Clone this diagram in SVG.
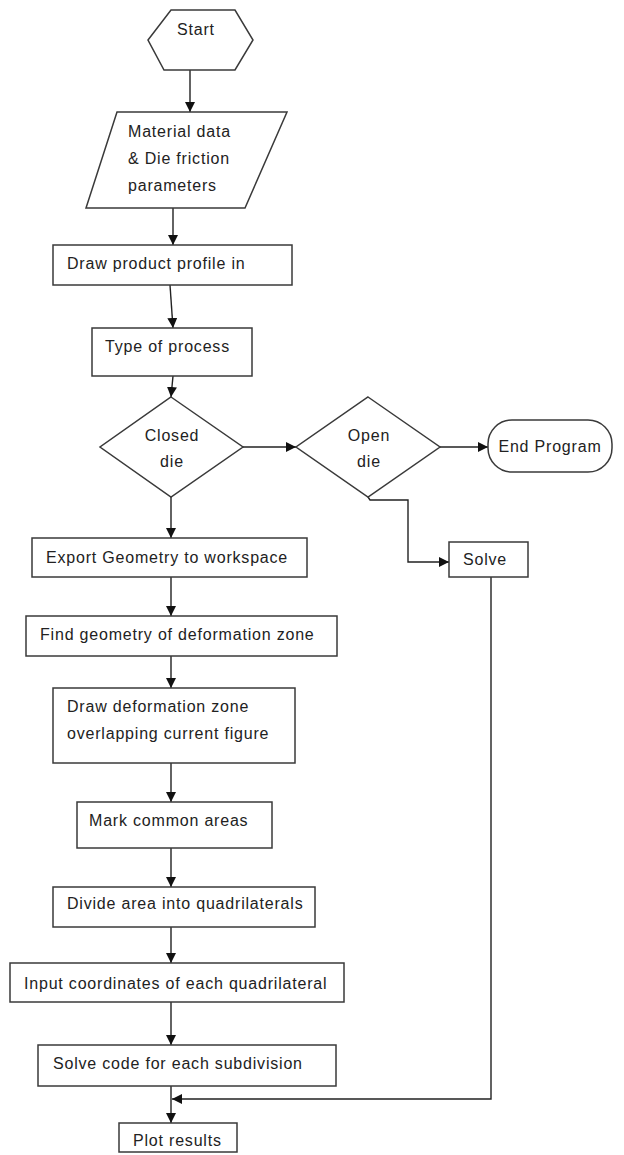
<svg xmlns="http://www.w3.org/2000/svg" width="624" height="1155" viewBox="0 0 624 1155">
<defs>
<marker id="ah" viewBox="0 0 10 10" refX="10" refY="5" markerWidth="10" markerHeight="10" orient="auto" markerUnits="userSpaceOnUse"><path d="M0,0 L10,5 L0,10 z" fill="#111"/></marker>
<style>
.s{fill:#fff;stroke:#3a3a3a;stroke-width:1.5}
.t{font-family:"Liberation Sans",Arial,sans-serif;font-size:16px;letter-spacing:0.8px;fill:#222}
.c{text-anchor:middle}
.e{fill:none;stroke:#222;stroke-width:1.4;marker-end:url(#ah)}
.n{fill:none;stroke:#222;stroke-width:1.4}
</style>
</defs>
<rect width="624" height="1155" fill="#fff"/>
<g id="connectors">
<path class="e" d="M190,70 V112"/>
<path class="e" d="M173,208 V245"/>
<path class="e" d="M170,285 L173,328"/>
<path class="e" d="M173,376 L171,397"/>
<path class="e" d="M243,447 H296"/>
<path class="e" d="M440,447 H488"/>
<path class="e" d="M368,497 L370,500 H408 V562 H449"/>
<path class="e" d="M171,497 V538"/>
<path class="e" d="M171,577 V616"/>
<path class="e" d="M171,656 V688"/>
<path class="e" d="M171,763 V802"/>
<path class="e" d="M171,848 V887"/>
<path class="e" d="M171,927 V963"/>
<path class="e" d="M171,1002 V1045"/>
<path class="e" d="M171,1086 V1123"/>
<path class="e" d="M491,577 V1099 H172"/>
</g>
<g id="start">
<polygon class="s" points="148,40 171,10 235,10 253,40 235,70 164,70"/>
<text class="t" x="177" y="35">Start</text>
</g>
<g id="material">
<polygon class="s" points="117,112 287,112 245,208 86,208"/>
<text class="t" x="128" y="137">Material data</text>
<text class="t" x="128" y="164">&amp; Die friction</text>
<text class="t" x="128" y="191">parameters</text>
</g>
<g id="draw-profile">
<rect class="s" x="53" y="245" width="239" height="40"/>
<text class="t" x="67" y="269">Draw product profile in</text>
</g>
<g id="type-process">
<rect class="s" x="92" y="328" width="160" height="48"/>
<text class="t" x="105" y="352">Type of process</text>
</g>
<g id="closed-die">
<polygon class="s" points="171,397 243,447 171,497 100,447"/>
<text class="t c" x="172" y="441">Closed</text>
<text class="t c" x="172" y="467">die</text>
</g>
<g id="open-die">
<polygon class="s" points="368,397 440,447 368,497 296,447"/>
<text class="t c" x="369" y="441">Open</text>
<text class="t c" x="369" y="467">die</text>
</g>
<g id="end-program">
<rect class="s" x="488" y="420" width="124" height="52" rx="24"/>
<text class="t c" x="550" y="452">End Program</text>
</g>
<g id="solve">
<rect class="s" x="449" y="542" width="79" height="35"/>
<text class="t" x="463" y="565">Solve</text>
</g>
<g id="export">
<rect class="s" x="32" y="538" width="275" height="39"/>
<text class="t" x="46" y="563">Export Geometry to workspace</text>
</g>
<g id="find-geometry">
<rect class="s" x="26" y="616" width="311" height="40"/>
<text class="t" x="40" y="640">Find geometry of deformation zone</text>
</g>
<g id="draw-deformation">
<rect class="s" x="53" y="688" width="242" height="75"/>
<text class="t" x="67" y="712">Draw deformation zone</text>
<text class="t" x="67" y="739">overlapping current figure</text>
</g>
<g id="mark">
<rect class="s" x="77" y="802" width="195" height="46"/>
<text class="t" x="89" y="826">Mark common areas</text>
</g>
<g id="divide">
<rect class="s" x="53" y="887" width="262" height="40"/>
<text class="t" x="67" y="909">Divide area into quadrilaterals</text>
</g>
<g id="input">
<rect class="s" x="10" y="963" width="334" height="39"/>
<text class="t" x="24" y="989">Input coordinates of each quadrilateral</text>
</g>
<g id="solve-code">
<rect class="s" x="38" y="1045" width="298" height="41"/>
<text class="t" x="53" y="1069">Solve code for each subdivision</text>
</g>
<g id="plot">
<rect class="s" x="119" y="1123" width="118" height="29"/>
<text class="t" x="133" y="1146">Plot results</text>
</g>
</svg>
